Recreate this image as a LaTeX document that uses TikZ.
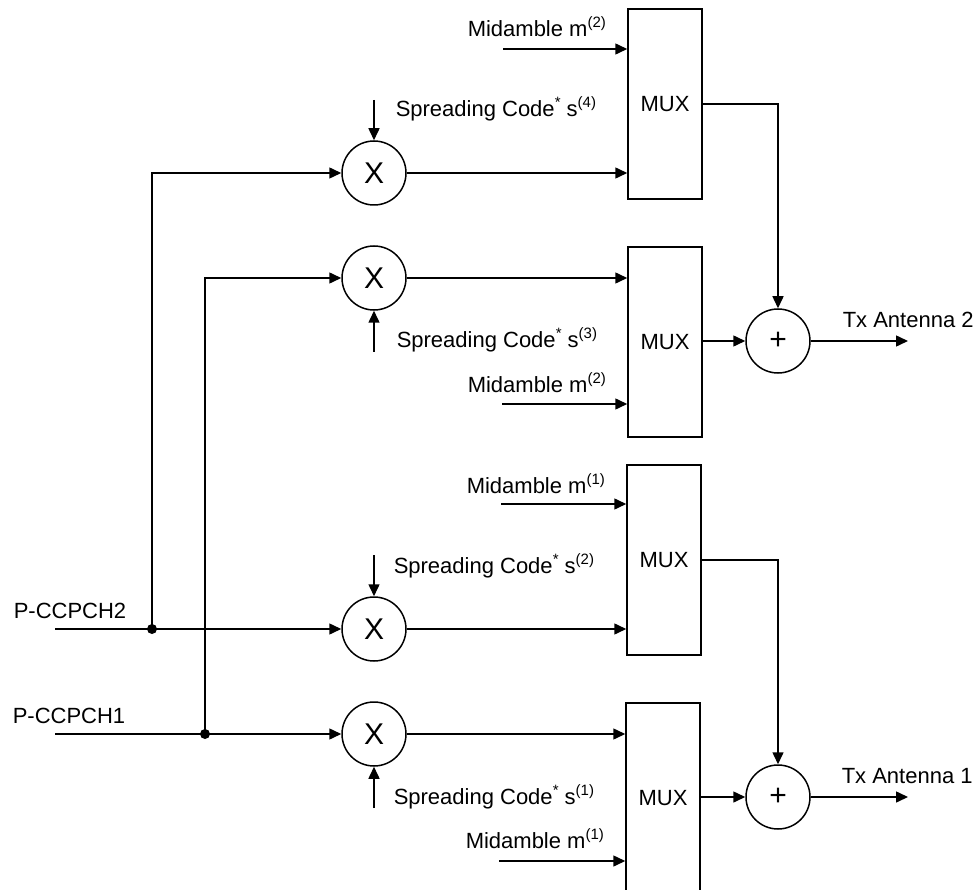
\documentclass[tikz,border=0pt]{standalone}
\usepackage{fontspec}
\setmainfont{Liberation Sans}
\usetikzlibrary{arrows.meta}
\newcommand{\supx}[1]{\raisebox{9pt}{\fontsize{15}{15}\selectfont #1}}
\begin{document}
\begin{tikzpicture}[x=1pt,y=-1pt,
  line width=1.5pt,
  arr/.style={-{Triangle[length=12pt,width=11pt]}},
  mux/.style={draw, rectangle, minimum width=74pt, minimum height=190pt, inner sep=0pt, font=\fontsize{22}{26}\selectfont},
  mult/.style={draw, circle, minimum size=64pt, inner sep=0pt, font=\fontsize{30}{32}\selectfont},
  lbl/.style={anchor=base west, inner sep=0pt, font=\fontsize{22}{26}\selectfont},
  jdot/.style={circle, fill, minimum size=10pt, inner sep=0pt}]
\useasboundingbox (0,0) rectangle (974,890);

% MUX blocks
\node[mux] (m4) at (665,104) {MUX};
\node[mux] (m3) at (665,342) {MUX};
\node[mux] (m2) at (664,560) {MUX};
\node[mux] (m1) at (663,798) {MUX};

% multipliers
\node[mult] (x4) at (374,173) {X};
\node[mult] (x3) at (374,278) {X};
\node[mult] (x2) at (374,629) {X};
\node[mult] (x1) at (374,734) {X};

% adders
\node[mult] (p2) at (778,341) {+};
\node[mult] (p1) at (778,797) {+};

% free ends
\coordinate (in2) at (55,629);
\coordinate (in1) at (55,734);
\coordinate (s4) at (374,100);
\coordinate (s3) at (374,352);
\coordinate (s2) at (374,555);
\coordinate (s1) at (374,808);
\coordinate (md4) at (503,49);
\coordinate (md3) at (502,404);
\coordinate (md2) at (501,504);
\coordinate (md1) at (499,861);
\coordinate (out2) at (908,341);
\coordinate (out1) at (908,797);

% junction dots
\node[jdot] (d2) at (152,629) {};
\node[jdot] (d1) at (205,734) {};

% labels
\node[lbl] (lp2) at (13,618) {P-CCPCH2};
\node[lbl] (lp1) at (12,723) {P-CCPCH1};
\node[lbl] (ls4) at (395,117) {Spreading Code\supx{*} s\supx{(4)}};
\node[lbl] (ls3) at (396,348) {Spreading Code\supx{*} s\supx{(3)}};
\node[lbl] (ls2) at (393,573) {Spreading Code\supx{*} s\supx{(2)}};
\node[lbl] (ls1) at (393,804) {Spreading Code\supx{*} s\supx{(1)}};
\node[lbl] (lm4) at (467,37) {Midamble m\supx{(2)}};
\node[lbl] (lm3) at (467,392) {Midamble m\supx{(2)}};
\node[lbl] (lm2) at (466,493) {Midamble m\supx{(1)}};
\node[lbl] (lm1) at (465,848) {Midamble m\supx{(1)}};
\node[lbl] (lt2) at (842,327) {Tx Antenna 2};
\node[lbl] (lt1) at (841,783) {Tx Antenna 1};

% inputs
\draw[arr] (in2) -- (x2.west);
\draw[arr] (in1) -- (x1.west);
\draw[arr] (d2.center) |- (x4.west);
\draw[arr] (d1.center) |- (x3.west);

% spreading codes
\draw[arr] (s4) -- (x4.north);
\draw[arr] (s3) -- (x3.south);
\draw[arr] (s2) -- (x2.north);
\draw[arr] (s1) -- (x1.south);

% multiplier to MUX
\draw[arr] (x4.east) -- (x4 -| m4.west);
\draw[arr] (x3.east) -- (x3 -| m3.west);
\draw[arr] (x2.east) -- (x2 -| m2.west);
\draw[arr] (x1.east) -- (x1 -| m1.west);

% midambles
\draw[arr] (md4) -- (md4 -| m4.west);
\draw[arr] (md3) -- (md3 -| m3.west);
\draw[arr] (md2) -- (md2 -| m2.west);
\draw[arr] (md1) -- (md1 -| m1.west);

% MUX to adders
\draw[arr] (m4.east) -| (p2.north);
\draw[arr] (m3.east |- p2) -- (p2.west);
\draw[arr] (m2.east) -| (p1.north);
\draw[arr] (m1.east |- p1) -- (p1.west);

% outputs
\draw[arr] (p2.east) -- (out2);
\draw[arr] (p1.east) -- (out1);
\end{tikzpicture}
\end{document}
